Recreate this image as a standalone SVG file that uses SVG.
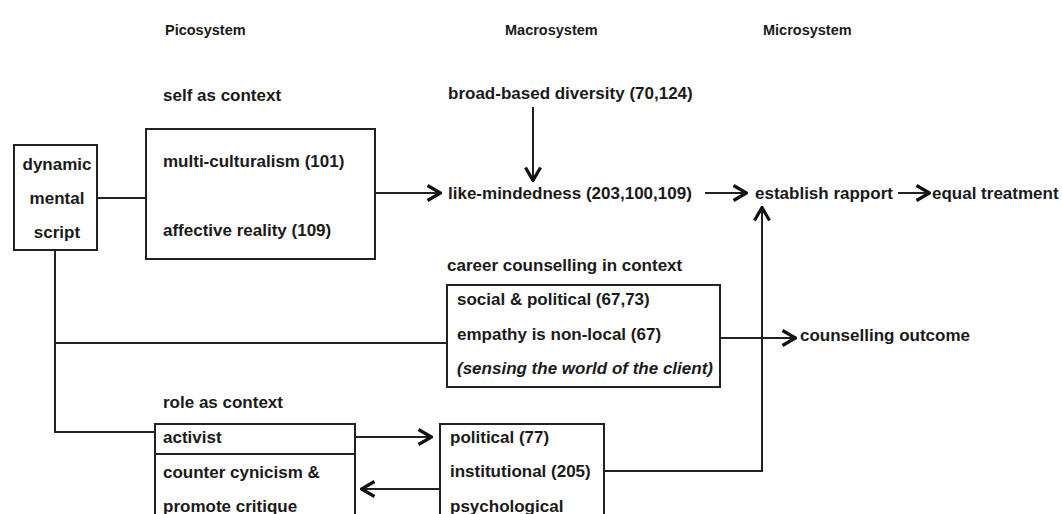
<svg xmlns="http://www.w3.org/2000/svg" width="1062" height="514" viewBox="0 0 1062 514">
  <style>
    text { font-family: "Liberation Sans", Arial, sans-serif; font-weight: bold; font-size: 17px; fill: #1a1a1a; }
    .hdr { font-size: 14.5px; }
    .it { font-style: italic; }
    .box { fill: #fff; stroke: #222; stroke-width: 2; }
    .ln { fill: none; stroke: #222; stroke-width: 2; }
    .arr { fill: none; stroke: #222; stroke-width: 2; marker-end: url(#chev); }
  </style>
  <defs>
    <marker id="chev" markerUnits="userSpaceOnUse" viewBox="0 0 16 18" markerWidth="16" markerHeight="18" refX="15" refY="9" orient="auto">
      <path d="M1.5,1.5 L14.5,9 L1.5,16.5" fill="none" stroke="#111" stroke-width="3.2"/>
    </marker>
  </defs>
  <rect width="1062" height="514" fill="#fff"/>

  <!-- column headings -->
  <g id="headings">
    <text class="hdr" x="165" y="35">Picosystem</text>
    <text class="hdr" x="505" y="35">Macrosystem</text>
    <text class="hdr" x="763" y="35">Microsystem</text>
  </g>

  <!-- connectors -->
  <g id="connectors">
    <line class="ln" x1="97" y1="198" x2="146" y2="198"/>
    <line class="arr" x1="375" y1="193" x2="441" y2="193"/>
    <line class="arr" x1="533" y1="107" x2="533" y2="181"/>
    <line class="arr" x1="705" y1="193" x2="747" y2="193"/>
    <line class="arr" x1="898" y1="193" x2="930" y2="193"/>
    <polyline class="ln" points="55,250 55,432 155,432"/>
    <line class="ln" x1="55" y1="343" x2="447" y2="343"/>
    <line class="arr" x1="720" y1="338" x2="796" y2="338"/>
    <line class="arr" x1="355" y1="437" x2="432" y2="437"/>
    <line class="arr" x1="440" y1="489" x2="361" y2="489"/>
    <polyline class="arr" points="604,471 762,471 762,207"/>
  </g>

  <g id="dynamic-mental-script">
    <rect class="box" x="14" y="145" width="83" height="105"/>
    <text x="57" y="170" text-anchor="middle">dynamic</text>
    <text x="57" y="204" text-anchor="middle">mental</text>
    <text x="57" y="238" text-anchor="middle">script</text>
  </g>

  <g id="self-as-context">
    <text x="163" y="101">self as context</text>
    <rect class="box" x="146" y="129" width="229" height="130"/>
    <text x="163" y="167">multi-culturalism (101)</text>
    <text x="163" y="236">affective reality (109)</text>
  </g>

  <g id="broad-based-diversity">
    <text x="448" y="99">broad-based diversity (70,124)</text>
  </g>

  <g id="like-mindedness">
    <text x="448" y="199">like-mindedness (203,100,109)</text>
  </g>

  <g id="establish-rapport">
    <text x="755" y="199">establish rapport</text>
  </g>

  <g id="equal-treatment">
    <text x="932" y="199">equal treatment</text>
  </g>

  <g id="career-counselling">
    <text x="447" y="271">career counselling in context</text>
    <rect class="box" x="447" y="285" width="273" height="102"/>
    <text x="457" y="305">social &amp; political (67,73)</text>
    <text x="457" y="340">empathy is non-local (67)</text>
    <text class="it" x="457" y="374">(sensing the world of the client)</text>
  </g>

  <g id="counselling-outcome">
    <text x="800" y="341">counselling outcome</text>
  </g>

  <g id="role-as-context">
    <text x="163" y="408">role as context</text>
    <rect class="box" x="155" y="424" width="200" height="100"/>
    <line class="ln" x1="155" y1="454" x2="356" y2="454"/>
    <text x="163" y="443">activist</text>
    <text x="163" y="478">counter cynicism &amp;</text>
    <text x="163" y="512">promote critique</text>
  </g>

  <g id="political-institutional">
    <rect class="box" x="440" y="424" width="164" height="100"/>
    <text x="450" y="443">political (77)</text>
    <text x="450" y="477">institutional (205)</text>
    <text x="450" y="512">psychological</text>
  </g>
</svg>
